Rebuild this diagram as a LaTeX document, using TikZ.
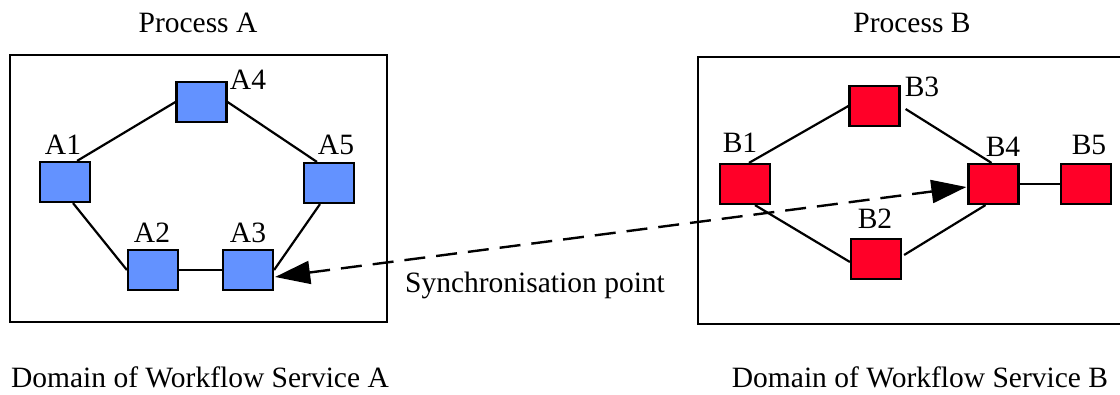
\documentclass[tikz,border=0pt]{standalone}
\usepackage{fontspec}
\setmainfont{Liberation Serif}
\usetikzlibrary{arrows.meta,calc}
\definecolor{nodeblue}{RGB}{99,146,255}
\definecolor{nodered}{RGB}{255,0,40}
\begin{document}
\begin{tikzpicture}[x=1pt,y=-1pt,
  taskbox/.style={draw=black,line width=2.2pt,rectangle,inner sep=0pt,minimum width=50pt,minimum height=40pt},
  ataskbox/.style={taskbox,fill=nodeblue},
  btaskbox/.style={taskbox,fill=nodered},
  lbl/.style={font=\fontsize{29.5}{32}\selectfont,anchor=base,inner sep=0pt},
  domainbox/.style={draw=black,line width=2.4pt},
  conn/.style={line width=2.2pt},
  syncline/.style={line width=2.4pt,dash pattern=on 21pt off 11pt,{Triangle[length=35pt,width=23pt]}-{Triangle[length=35pt,width=23pt]}}]
\useasboundingbox (0,0) rectangle (1120,395);
% domain boxes
\draw[domainbox] (10,55) rectangle (387,322);
\draw[domainbox] (698,57) rectangle (1125,324);
% process A
\node[ataskbox] (A1) at (65,182) {};
\node[ataskbox] (A4) at (201.5,102) {};
\node[ataskbox] (A5) at (329,183) {};
\node[ataskbox] (A2) at (153,270) {};
\node[ataskbox] (A3) at (248,270) {};
\node[lbl] (lA1) at (63,155) {A1};
\node[lbl] (lA4) at (248,90) {A4};
\node[lbl] (lA5) at (336,155) {A5};
\node[lbl] (lA2) at (152,243) {A2};
\node[lbl] (lA3) at (248,243) {A3};
\draw[conn] ($(A1.north east)+(-14,0)$) -- (A4.west);
\draw[conn] (A4.east) -- ($(A5.north west)+(14,0)$);
\draw[conn] ($(A1.south)+(8,0)$) -- (A2.west);
\draw[conn] (A2) -- (A3);
\draw[conn] ($(A5.south)+(-9,0)$) -- (A3.east);
% process B
\node[btaskbox] (B1) at (745,184) {};
\node[btaskbox] (B3) at (874.5,106) {};
\node[btaskbox] (B4) at (993.5,184) {};
\node[btaskbox] (B5) at (1086,184) {};
\node[btaskbox] (B2) at (876,259) {};
\node[lbl] (lB1) at (740,153) {B1};
\node[lbl] (lB3) at (922,97) {B3};
\node[lbl] (lB4) at (1003,157) {B4};
\node[lbl] (lB5) at (1089,155) {B5};
\node[lbl] (lB2) at (875,229) {B2};
\draw[conn] ($(B1.north)+(4,0)$) -- (B3.west);
\draw[conn] ($(B3.east)+(5,3)$) -- ($(B4.north)+(-2,0)$);
\draw[conn] ($(B1.south)+(10,0)$) -- ($(B2.west)+(0,3)$);
\draw[conn] ($(B2.east)+(2,-4)$) -- ($(B4.south)+(-8,0)$);
\draw[conn] (B4) -- (B5);
% synchronisation
\draw[syncline] ($(A3.east)+(1,7)$) -- ($(B4.west)+(-1,3)$);
\node[lbl] (sy) at (535,293) {Synchronisation point};
% titles
\node[lbl] (pA) at (198,33) {Process A};
\node[lbl] (pB) at (912,33) {Process B};
\node[lbl] (dA) at (200,388) {Domain of Workflow Service A};
\node[lbl] (dB) at (920,388) {Domain of Workflow Service B};
\end{tikzpicture}
\end{document}
